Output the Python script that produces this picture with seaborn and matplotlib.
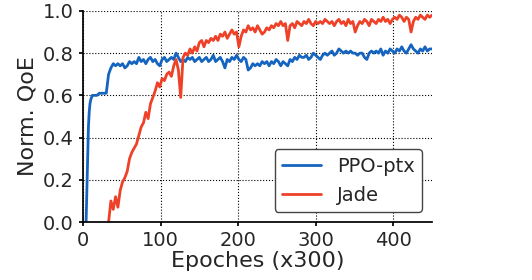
import numpy as np
import pandas as pd
import matplotlib
matplotlib.use("Agg")
import matplotlib.pyplot as plt
import seaborn as sns

# PPO-ptx: quick ramp-up, then step 3 from epoch 15
ppo_head_epoch = [4, 5, 6, 7, 8, 9, 10, 12]
ppo_head_qoe = [0.0, 0.15, 0.32, 0.45, 0.52, 0.56, 0.58, 0.60]
ppo_qoe = [
    0.60, 0.60, 0.61, 0.61, 0.61, 0.61, 0.70, 0.73, 0.75, 0.74,
    0.75, 0.74, 0.75, 0.73, 0.74, 0.76, 0.75, 0.76, 0.75, 0.78,
    0.76, 0.77, 0.75, 0.77, 0.78, 0.76, 0.77, 0.75, 0.74, 0.77,
    0.78, 0.76, 0.77, 0.78, 0.77, 0.80, 0.78, 0.76, 0.77, 0.76,
    0.78, 0.77, 0.78, 0.76, 0.77, 0.78, 0.76, 0.77, 0.78, 0.76,
    0.77, 0.79, 0.76, 0.77, 0.78, 0.76, 0.73, 0.77, 0.76, 0.78,
    0.77, 0.79, 0.77, 0.76, 0.78, 0.77, 0.72, 0.73, 0.75, 0.74,
    0.75, 0.74, 0.76, 0.75, 0.76, 0.74, 0.76, 0.75, 0.77, 0.76,
    0.74, 0.76, 0.75, 0.74, 0.77, 0.76, 0.78, 0.77, 0.79, 0.78,
    0.78, 0.79, 0.77, 0.78, 0.80, 0.79, 0.78, 0.77, 0.79, 0.80,
    0.79, 0.80, 0.81, 0.79, 0.80, 0.82, 0.81, 0.80, 0.81, 0.80,
    0.81, 0.80, 0.80, 0.79, 0.80, 0.80, 0.78, 0.77, 0.80, 0.81,
    0.80, 0.81, 0.80, 0.82, 0.79, 0.81, 0.80, 0.82, 0.81, 0.80,
    0.82, 0.81, 0.83, 0.81, 0.80, 0.82, 0.84, 0.82, 0.81, 0.80,
    0.82, 0.81, 0.83, 0.81, 0.82, 0.82,
]
ppo_start, step = 15, 3

# Jade: step 3 from epoch 33
jade_start = 33
jade_qoe = [
    0.00, 0.10, 0.06, 0.12, 0.07, 0.15, 0.19, 0.21, 0.24, 0.30,
    0.33, 0.35, 0.37, 0.41, 0.45, 0.47, 0.52, 0.49, 0.56, 0.59,
    0.62, 0.66, 0.64, 0.68, 0.67, 0.70, 0.71, 0.69, 0.74, 0.77,
    0.72, 0.59, 0.78, 0.80, 0.79, 0.82, 0.80, 0.83, 0.81, 0.85,
    0.86, 0.83, 0.86, 0.85, 0.87, 0.86, 0.88, 0.86, 0.89, 0.88,
    0.90, 0.87, 0.89, 0.91, 0.89, 0.90, 0.83, 0.88, 0.91, 0.90,
    0.93, 0.91, 0.92, 0.90, 0.93, 0.91, 0.89, 0.90, 0.92, 0.91,
    0.93, 0.92, 0.94, 0.93, 0.95, 0.93, 0.94, 0.86, 0.93, 0.94,
    0.92, 0.95, 0.94, 0.93, 0.95, 0.94, 0.96, 0.94, 0.93, 0.95,
    0.94, 0.95, 0.94, 0.96, 0.95, 0.94, 0.95, 0.93, 0.95, 0.96,
    0.94, 0.95, 0.93, 0.96, 0.94, 0.95, 0.90, 0.93, 0.95, 0.94,
    0.96, 0.95, 0.93, 0.96, 0.95, 0.94, 0.96, 0.95, 0.97, 0.95,
    0.96, 0.94, 0.96, 0.97, 0.96, 0.98, 0.97, 0.95, 0.97, 0.96,
    0.90, 0.95, 0.97, 0.96, 0.98, 0.97, 0.96, 0.98, 0.97, 0.98,
]

ppo_epoch = ppo_head_epoch + list(ppo_start + step * np.arange(len(ppo_qoe)))
jade_epoch = list(jade_start + step * np.arange(len(jade_qoe)))

df = pd.concat([
    pd.DataFrame({"epoch": ppo_epoch, "qoe": ppo_head_qoe + ppo_qoe, "method": "PPO-ptx"}),
    pd.DataFrame({"epoch": jade_epoch, "qoe": jade_qoe, "method": "Jade"}),
], ignore_index=True)

sns.set_theme(style="ticks")
plt.rcParams["font.family"] = ["DejaVu Sans"]

fig = plt.figure(figsize=(5.32, 2.8), dpi=100)
ax = fig.add_axes([0.156, 0.207, 0.656, 0.754])

sns.lineplot(data=df, x="epoch", y="qoe", hue="method",
             palette={"PPO-ptx": "#1565c0", "Jade": "#ee4128"},
             linewidth=2, ax=ax)

ax.set_xlim(0, 450)
ax.set_ylim(0, 1.0)
ax.set_xticks([0, 100, 200, 300, 400])
ax.set_yticks([0.0, 0.2, 0.4, 0.6, 0.8, 1.0])
ax.grid(True, linestyle=":", color="black", linewidth=0.8)
ax.tick_params(labelsize=14, length=3, color="black")
ax.set_xlabel("Epoches (x300)", fontsize=16, labelpad=1)
ax.set_ylabel("Norm. QoE", fontsize=16)
for side in ("top", "right"):
    ax.spines[side].set_visible(False)
for side in ("left", "bottom"):
    ax.spines[side].set_color("black")

leg = ax.legend(loc="lower right", fontsize=14, title=None,
                fancybox=True, framealpha=1, edgecolor="#444444")
leg.get_frame().set_linewidth(1.0)

fig.savefig("out.png", dpi=100)
